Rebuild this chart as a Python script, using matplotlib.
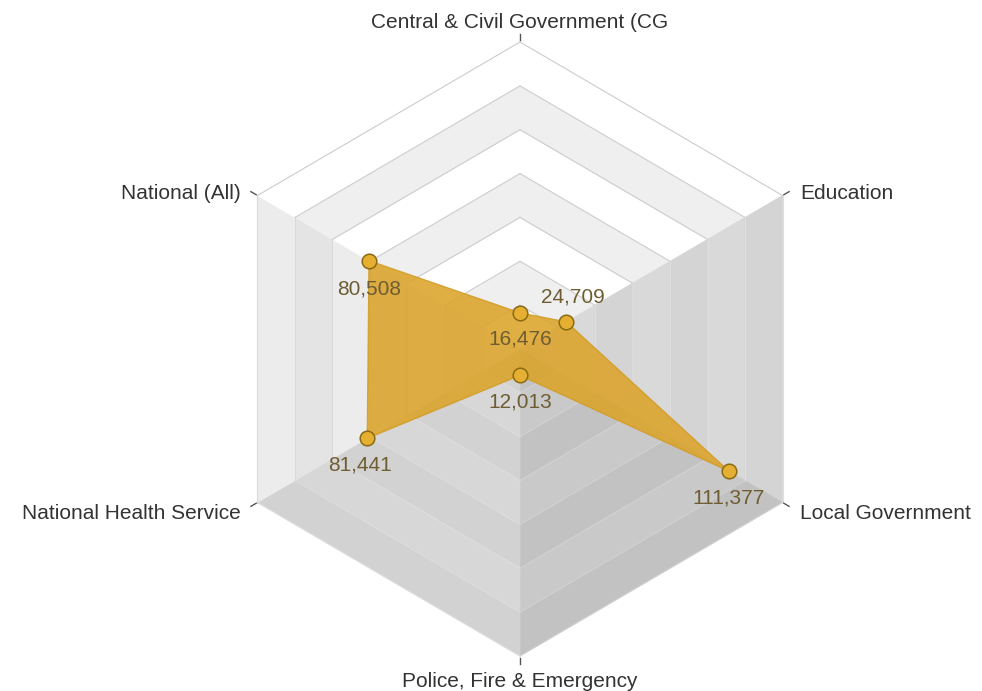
import numpy as np
import matplotlib.pyplot as plt
from matplotlib.patches import Polygon

plt.rcParams['font.family'] = ['Liberation Sans', 'DejaVu Sans']

# data
categories = ['Central & Civil Government (CG', 'Education', 'Local Government',
              'Police, Fire & Emergency', 'National Health Service', 'National (All)']
values = [16476, 24709, 111377, 12013, 81441, 80508]
value_labels = ['16,476', '24,709', '111,377', '12,013', '81,441', '80,508']
ring_step = 20000
n_rings = 7
r_max = ring_step * n_rings

# axes clockwise from the top
angles = np.deg2rad(90 - 60 * np.arange(len(categories)))

# shading per sector (outer band colour, alternate band colour)
sector_colors = [
    ('#ffffff', '#efefef'),  # top -> upper right
    ('#d4d4d4', '#d9d9d9'),  # right face
    ('#c2c2c2', '#c9c9c9'),  # lower right
    ('#d2d2d2', '#d7d7d7'),  # lower left
    ('#ececec', '#e4e4e4'),  # left face
    ('#ffffff', '#efefef'),  # upper left -> top
]
line_colors = ['#cccccc', '#dedede', '#d2d2d2', '#dddddd', '#dadada', '#cccccc']

fig = plt.figure(figsize=(9.82, 6.91), dpi=100)
ax = fig.add_axes([0, 0, 1, 1])
py = r_max / 307.0
px = 0.866 * r_max / 262.5
ax.set_xlim(-520 * px, 462 * px)
ax.set_ylim(-342 * py, 349 * py)
ax.axis('off')


def pt(r, a):
    return (r * np.cos(a), r * np.sin(a))


n = len(categories)
for k in range(n):
    a1 = angles[k]
    a2 = angles[(k + 1) % n]
    for j in range(n_rings):
        r_in = j * ring_step
        r_out = (j + 1) * ring_step
        outer, alt = sector_colors[k]
        col = outer if (n_rings - 1 - j) % 2 == 0 else alt
        poly = Polygon([pt(r_in, a1), pt(r_out, a1), pt(r_out, a2), pt(r_in, a2)],
                       closed=True, facecolor=col, edgecolor=col, lw=0.5, zorder=1)
        ax.add_patch(poly)
    # ring lines for this face
    for j in range(1, n_rings + 1):
        r = j * ring_step
        p1, p2 = pt(r, a1), pt(r, a2)
        ax.plot([p1[0], p2[0]], [p1[1], p2[1]], color=line_colors[k],
                lw=0.8, zorder=2)

# small ticks at the outer vertices
for a in angles:
    x0, y0 = pt(r_max * 1.005, a)
    x1, y1 = pt(r_max * 1.025, a)
    ax.plot([x0, x1], [y0, y1], color='#555555', lw=1.0, zorder=2)

# category labels
for a, name in zip(angles, categories):
    c, s = np.cos(a), np.sin(a)
    x, y = pt(r_max, a)
    if abs(c) < 0.1:
        off = (0, 14 if s > 0 else -18.5)
        ha = 'center'
    else:
        off = (12.5 if c > 0 else -12, 1.5 if s > 0 else -8)
        ha = 'left' if c > 0 else 'right'
    ax.annotate(name, (x, y), xytext=off, textcoords='offset points',
                ha=ha, va='center', fontsize=15, color='#333333', zorder=5)

# the data polygon
dx = [pt(v, a)[0] for v, a in zip(values, angles)]
dy = [pt(v, a)[1] for v, a in zip(values, angles)]
ax.add_patch(Polygon(list(zip(dx, dy)), closed=True, facecolor='#dca42a',
                     edgecolor='#d39d26', alpha=0.88, lw=1, zorder=3))
ax.plot(dx, dy, 'o', ms=10.5, mfc='#e5b032', mec='#8a6a14', mew=1.1,
        ls='none', zorder=4)

offsets = [(0, -19), (5, 18), (0, -19), (0, -19), (-5, -19), (0, -20)]
for x, y, lab, off in zip(dx, dy, value_labels, offsets):
    ax.annotate(lab, (x, y), xytext=off, textcoords='offset points',
                ha='center', va='center', fontsize=15, color='#6e5d32', zorder=5)

fig.savefig('out.png', dpi=100)
